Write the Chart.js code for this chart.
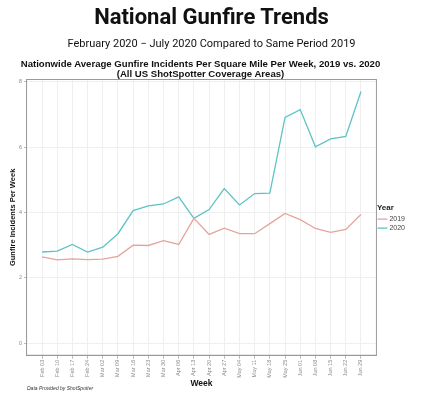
<!DOCTYPE html>
<html lang="en">

<head>
    <meta charset="UTF-8">
    <title>National Gunfire Trends</title>
    <style>
        body { margin: 0; background: #fff; }
        #wrap { position: relative; width: 423px; height: 400px; overflow: hidden; }
        #grafico { position: absolute; left: 0; top: 0; }
        .txt { position: absolute; left: 0; width: 423px; text-align: center; color: #111; white-space: nowrap; }
        #titulo { top: 4px; font: bold 22px Roboto, sans-serif; }
        #subtitulo { top: 37px; font: 11px Roboto, sans-serif; }
        #titulo2 { top: 59px; width: 401px; font: bold 9.6px/9.6px "Liberation Sans", sans-serif; }
        #fonte { top: 385px; left: 27px; width: auto; text-align: left; font: italic 5px "Liberation Sans", sans-serif; color: #333; }
    </style>
</head>

<body>
    <div id="wrap">
        <canvas id="grafico" width="423" height="400" style="width: 423px; height: 400px;"></canvas>
        <div class="txt" id="titulo">National Gunfire Trends</div>
        <div class="txt" id="subtitulo">February 2020 &minus; July 2020 Compared to Same Period 2019</div>
        <div class="txt" id="titulo2">Nationwide Average Gunfire Incidents Per Square Mile Per Week, 2019 vs. 2020<br>(All US ShotSpotter Coverage Areas)</div>
        <div class="txt" id="fonte">Data Provided by ShotSpotter</div>
    </div>

    <script src="https://cdn.jsdelivr.net/npm/chart.js"></script>
    <script>
        // semanas (eixo x)
        const semanas = ['Feb 03', 'Feb 10', 'Feb 17', 'Feb 24', 'Mar 02', 'Mar 09', 'Mar 16', 'Mar 23',
            'Mar 30', 'Apr 06', 'Apr 13', 'Apr 20', 'Apr 27', 'May 04', 'May 11', 'May 18',
            'May 25', 'Jun 01', 'Jun 08', 'Jun 15', 'Jun 22', 'Jun 29']

        const valores2019 = [2.64, 2.55, 2.58, 2.56, 2.57, 2.66, 3.00, 2.99, 3.14, 3.02, 3.82,
            3.33, 3.52, 3.35, 3.35, 3.66, 3.97, 3.78, 3.51, 3.39, 3.48, 3.94]

        const valores2020 = [2.79, 2.82, 3.02, 2.79, 2.94, 3.35, 4.06, 4.20, 4.26, 4.48, 3.82,
            4.09, 4.73, 4.23, 4.58, 4.59, 6.91, 7.15, 6.01, 6.25, 6.33, 7.70]

        const ticksY = [0, 2, 4, 6, 8]

        const pontos = (arr) => arr.map((v, i) => ({ x: i, y: v }))

        const ctx = document.getElementById('grafico')

        const cinzaTick = '#8a8a8a'
        const grade = '#efefef'

        let grafico = new Chart(ctx, {
            type: 'line',
            data: {
                datasets: [{
                    label: '2019',
                    data: pontos(valores2019),
                    borderColor: '#E4A49C',
                    backgroundColor: '#E4A49C',
                    borderWidth: 1.3,
                    pointRadius: 0,
                    tension: 0
                }, {
                    label: '2020',
                    data: pontos(valores2020),
                    borderColor: '#5EC3C4',
                    backgroundColor: '#5EC3C4',
                    borderWidth: 1.3,
                    pointRadius: 0,
                    tension: 0
                }]
            },
            options: {
                responsive: false,
                animation: false,
                devicePixelRatio: 1,
                layout: {
                    padding: { top: 79, left: 8, right: 8, bottom: 11 }
                },
                plugins: {
                    tooltip: { enabled: false },
                    legend: {
                        position: 'right',
                        align: 'start',
                        title: {
                            display: true,
                            text: 'Year',
                            position: 'start',
                            color: '#222',
                            font: { family: 'Liberation Sans', size: 8, weight: 'bold' },
                            padding: { top: 125, bottom: 0 }
                        },
                        labels: {
                            usePointStyle: true,
                            pointStyle: 'line',
                            boxWidth: 10,
                            padding: 2,
                            color: '#444',
                            font: { family: 'Liberation Sans', size: 7 }
                        }
                    }
                },
                scales: {
                    x: {
                        type: 'linear',
                        min: -1.05,
                        max: semanas.length - 1 + 1.05,
                        afterBuildTicks: (s) => { s.ticks = semanas.map((_, i) => ({ value: i })) },
                        ticks: {
                            autoSkip: false,
                            minRotation: 90,
                            maxRotation: 90,
                            padding: 1,
                            color: cinzaTick,
                            font: { family: 'Liberation Sans', size: 5.5 },
                            callback: (v) => semanas[v]
                        },
                        grid: { color: grade, drawTicks: true, tickLength: 3, tickColor: '#bbb' },
                        border: { color: '#9a9a9a', width: 1 },
                        title: {
                            display: true,
                            text: 'Week',
                            color: '#111',
                            font: { family: 'Liberation Sans', size: 8.5, weight: 'bold' },
                            padding: { top: 0, bottom: 0 }
                        }
                    },
                    y: {
                        min: -0.385,
                        max: 8.085,
                        afterBuildTicks: (s) => { s.ticks = ticksY.map(v => ({ value: v })) },
                        ticks: {
                            color: cinzaTick,
                            padding: 2,
                            font: { family: 'Liberation Sans', size: 5.5 }
                        },
                        grid: { color: grade, tickLength: 2, tickColor: '#bbb' },
                        border: { color: '#9a9a9a', width: 1 },
                        title: {
                            display: true,
                            text: 'Gunfire Incidents Per Week',
                            color: '#111',
                            font: { family: 'Liberation Sans', size: 7.5, weight: 'bold' },
                            padding: { top: 0, bottom: 0 }
                        }
                    }
                }
            },
            plugins: [{
                // moldura do painel como no ggplot
                id: 'moldura',
                afterDraw(chart) {
                    const a = chart.chartArea
                    const c = chart.ctx
                    c.save()
                    c.strokeStyle = '#9a9a9a'
                    c.lineWidth = 1
                    c.strokeRect(a.left + 0.5, a.top + 0.5, a.right - a.left - 1, a.bottom - a.top - 1)
                    c.restore()
                }
            }]
        })

        console.log(JSON.stringify(grafico.chartArea))
    </script>
</body>

</html>
